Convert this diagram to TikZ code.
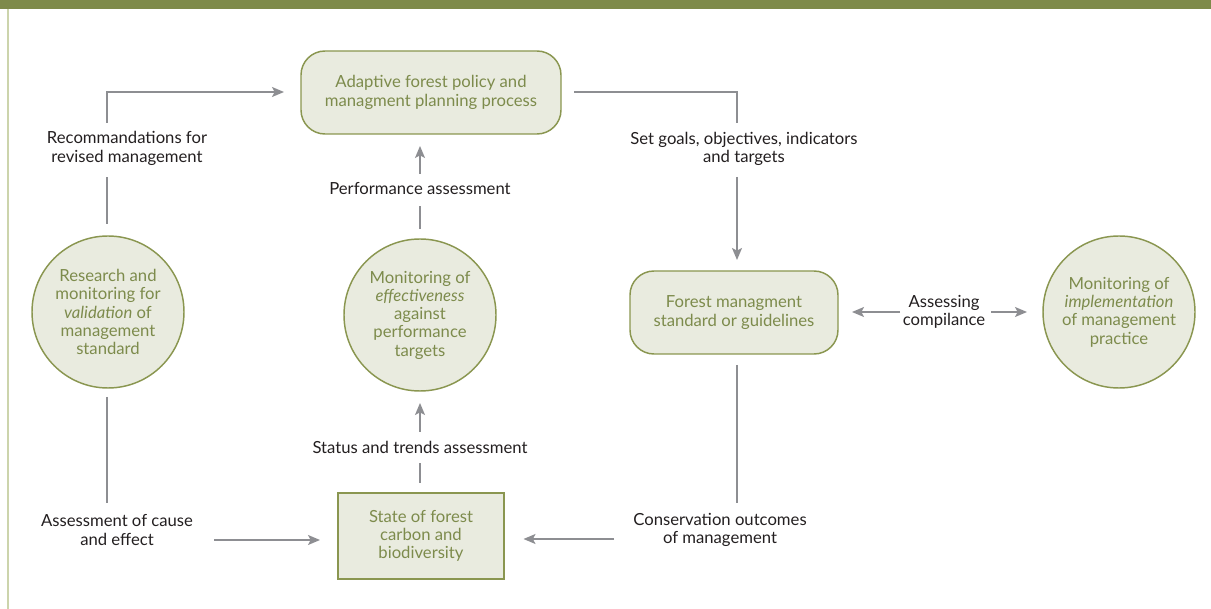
\documentclass[tikz,border=0pt]{standalone}
\usepackage{fontspec}
\setmainfont{Lato}
\usetikzlibrary{arrows.meta,calc}
\definecolor{band}{HTML}{7E8A4A}
\definecolor{olive}{HTML}{8A9650}
\definecolor{boxfill}{HTML}{E9EBDF}
\definecolor{gtext}{HTML}{7D8B4C}
\definecolor{greyline}{HTML}{8D8E92}
\definecolor{edgeline}{HTML}{CCD4AC}
\definecolor{dark}{HTML}{231F20}
\begin{document}
\begin{tikzpicture}[x=0.75pt,y=-0.75pt,
  every node/.style={font=\fontsize{12.5}{13.7}\selectfont, align=center, inner sep=0pt},
  gbox/.style={draw=olive, line width=1.1pt, fill=boxfill, text=gtext, rounded corners=18pt},
  sbox/.style={draw=olive, line width=1.1pt, fill=boxfill, text=gtext},
  gcirc/.style={circle, draw=olive, line width=1.1pt, fill=boxfill, text=gtext, minimum size=114pt},
  lbl/.style={text=dark},
  conn/.style={draw=greyline, line width=1.1pt},
  arr/.style={conn, -{Stealth[length=9pt,width=7.5pt,inset=2pt]}}
]
\useasboundingbox (0,0) rectangle (1211,609);
\fill[band] (0,0) rectangle (1211,9);
\draw[edgeline, line width=1.5pt] (8,9) -- (8,609);

% boxes
\node[gbox, minimum width=195pt, minimum height=62.25pt] (A) at (431,92.5)
  {Adaptive forest policy and\\managment planning process};
\node[gbox, minimum width=156pt, minimum height=62.25pt] (F) at (734,312.5)
  {Forest managment\\standard or guidelines};
\node[sbox, minimum width=124.5pt, minimum height=64.5pt] (S) at (421,536)
  {State of forest\\carbon and\\biodiversity};

% circles
\node[gcirc] (R) at (108,312)
  {Research and\\monitoring for\\\textit{validation} of\\management\\standard};
\node[gcirc] (E) at (420,315)
  {Monitoring of\\\textit{effectiveness}\\against\\performance\\targets};
\node[gcirc] (M) at (1119,312)
  {Monitoring of\\\textit{implementation}\\of management\\practice};

% labels
\node[lbl] (lRec) at (127,148.5) {Recommandations for\\revised management};
\node[lbl] (lPerf) at (420,189) {Performance assessment};
\node[lbl] (lSet) at (744,149) {Set goals, objectives, indicators\\and targets};
\node[lbl] (lAss) at (944,311.5) {Assessing\\compilance};
\node[lbl] (lStat) at (420,447) {Status and trends assessment};
\node[lbl] (lCause) at (117,530) {Assessment of cause\\and effect};
\node[lbl] (lCons) at (720,530) {Conservation outcomes\\of management};

% connector points
\coordinate (r1) at (107,224); \coordinate (r2) at (107,177);
\coordinate (r3) at (107,123); \coordinate (r4) at (284,92);
\coordinate (e1) at (420,229); \coordinate (e2) at (420,206);
\coordinate (e3) at (420,174); \coordinate (e4) at (420,146);
\coordinate (a1) at (574,92);  \coordinate (a2) at (737,123);
\coordinate (a3) at (737,177); \coordinate (a4) at (737,260);
\coordinate (f1) at (737,365); \coordinate (f2) at (737,503);
\coordinate (f3) at (614,539); \coordinate (f4) at (523.5,539);
\coordinate (d1) at (107,397); \coordinate (d2) at (107,503);
\coordinate (d3) at (214,540); \coordinate (d4) at (320,540);
\coordinate (s1) at (420,483); \coordinate (s2) at (420,463);
\coordinate (s3) at (420,432); \coordinate (s4) at (420,403);
\coordinate (m1) at (900,312); \coordinate (m2) at (852,312);
\coordinate (m3) at (991,312); \coordinate (m4) at (1027,312);

\draw[conn] (r1) -- (r2);
\draw[arr] (r3) |- (r4);
\draw[conn] (e1) -- (e2);
\draw[arr] (e3) -- (e4);
\draw[conn] (a1) -| (a2);
\draw[arr] (a3) -- (a4);
\draw[conn] (f1) -- (f2);
\draw[arr] (f3) -- (f4);
\draw[conn] (d1) -- (d2);
\draw[arr] (d3) -- (d4);
\draw[conn] (s1) -- (s2);
\draw[arr] (s3) -- (s4);
\draw[arr] (m1) -- (m2);
\draw[arr] (m3) -- (m4);
\end{tikzpicture}
\end{document}
